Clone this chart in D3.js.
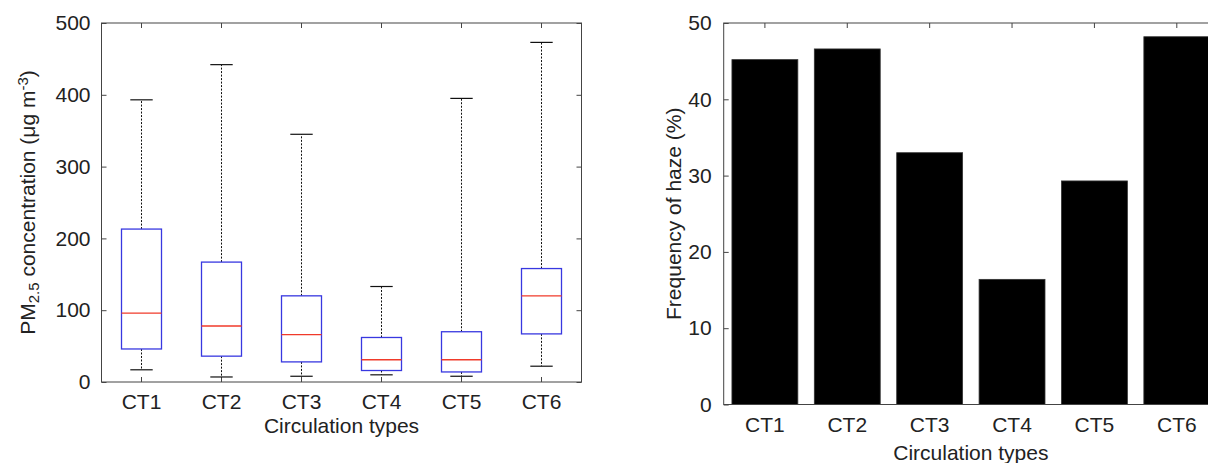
<!DOCTYPE html>
<html>
<head>
<meta charset="utf-8">
<script src="https://cdn.jsdelivr.net/npm/d3@7"></script>
<style>
  body { margin: 0; background: #fff; }
  svg text { font-family: "Liberation Sans", Arial, sans-serif; fill: #222; }
  .axis path, .axis line { stroke: #444; }
</style>
</head>
<body>
<svg id="chart" width="1208" height="463"></svg>
<script>
const categories = ["CT1", "CT2", "CT3", "CT4", "CT5", "CT6"];

// box plot stats, PM2.5 (ug m-3)
const whiskerLow  = [17, 7, 8, 10, 8, 22];
const q1          = [46, 36, 28, 16, 14, 67];
const median      = [96, 78, 66, 31, 31, 120];
const q3          = [213, 167, 120, 62, 70, 158];
const whiskerHigh = [393, 442, 345, 133, 395, 473];

// haze frequency (%)
const hazeFreq = [45.2, 46.6, 33.0, 16.4, 29.3, 48.2];

const pmTicks = [0, 100, 200, 300, 400, 500];
const hazeTicks = [0, 10, 20, 30, 40, 50];

const svg = d3.select('#chart');
const fontSize = 21;

// ---------- left: box plot ----------
const left = {x0: 101.5, x1: 581.5, y0: 23, y1: 382};
const xBox = d3.scaleBand().domain(categories).range([left.x0, left.x1]).padding(0);
const yBox = d3.scaleLinear().domain([0, 500]).range([left.y1, left.y0]);
const boxData = categories.map((c, i) => ({
  c, lo: whiskerLow[i], q1: q1[i], med: median[i], q3: q3[i], hi: whiskerHigh[i]
}));

const gL = svg.append('g');

// frame
gL.append('rect')
  .attr('x', left.x0).attr('y', left.y0)
  .attr('width', left.x1 - left.x0).attr('height', left.y1 - left.y0)
  .attr('fill', 'none').attr('stroke', '#444');

const axL = gL.append('g').attr('class', 'axis')
  .attr('transform', `translate(${left.x0},0)`)
  .call(d3.axisLeft(yBox).tickValues(pmTicks).tickSizeInner(-5).tickSizeOuter(0).tickPadding(11));
const axR = gL.append('g').attr('class', 'axis')
  .attr('transform', `translate(${left.x1},0)`)
  .call(d3.axisRight(yBox).tickValues(pmTicks).tickSizeInner(-5).tickSizeOuter(0).tickFormat(''));
const axB = gL.append('g').attr('class', 'axis')
  .attr('transform', `translate(0,${left.y1})`)
  .call(d3.axisBottom(xBox).tickSizeInner(-5).tickSizeOuter(0).tickPadding(12));
const axT = gL.append('g').attr('class', 'axis')
  .attr('transform', `translate(0,${left.y0})`)
  .call(d3.axisTop(xBox).tickSizeInner(-5).tickSizeOuter(0).tickFormat(''));
[axL, axR, axB, axT].forEach(a => a.select('.domain').remove());
gL.selectAll('.axis text').style('font-size', fontSize + 'px').style('font-family', '"Liberation Sans", Arial, sans-serif').attr('fill', '#222');

const bw = xBox.bandwidth();
const cx = d => xBox(d.c) + bw / 2;
const boxes = gL.selectAll('g.box').data(boxData).join('g').attr('class', 'box');

// whiskers
boxes.append('line')
  .attr('x1', cx).attr('x2', cx)
  .attr('y1', d => yBox(d.q3)).attr('y2', d => yBox(d.hi))
  .attr('stroke', '#111').attr('stroke-width', 1).attr('stroke-dasharray', '2,1.5');
boxes.append('line')
  .attr('x1', cx).attr('x2', cx)
  .attr('y1', d => yBox(d.q1)).attr('y2', d => yBox(d.lo))
  .attr('stroke', '#111').attr('stroke-width', 1).attr('stroke-dasharray', '2,1.5');
// caps
['hi', 'lo'].forEach(k => {
  boxes.append('line')
    .attr('x1', d => cx(d) - bw * 0.14).attr('x2', d => cx(d) + bw * 0.14)
    .attr('y1', d => yBox(d[k])).attr('y2', d => yBox(d[k]))
    .attr('stroke', '#111').attr('stroke-width', 1.2);
});
// box
boxes.append('rect')
  .attr('x', d => cx(d) - bw * 0.25).attr('width', bw * 0.5)
  .attr('y', d => yBox(d.q3)).attr('height', d => yBox(d.q1) - yBox(d.q3))
  .attr('fill', '#fff').attr('stroke', '#3838e0').attr('stroke-width', 1.3);
// median
boxes.append('line')
  .attr('x1', d => cx(d) - bw * 0.25).attr('x2', d => cx(d) + bw * 0.25)
  .attr('y1', d => yBox(d.med)).attr('y2', d => yBox(d.med))
  .attr('stroke', '#f03a2a').attr('stroke-width', 1.3);

// labels
gL.append('text')
  .attr('x', (left.x0 + left.x1) / 2).attr('y', 433)
  .attr('text-anchor', 'middle').style('font-size', fontSize + 'px')
  .text('Circulation types');

const yLab = gL.append('text')
  .attr('transform', `translate(35,${(left.y0 + left.y1) / 2}) rotate(-90)`)
  .attr('text-anchor', 'middle').style('font-size', fontSize + 'px');
yLab.append('tspan').text('PM');
yLab.append('tspan').attr('baseline-shift', '-28%').style('font-size', '15px').text('2.5');
yLab.append('tspan').text(' concentration (\u03bcg m');
yLab.append('tspan').attr('baseline-shift', '45%').style('font-size', '15px').text('-3');
yLab.append('tspan').text(')');

// ---------- right: bar chart ----------
const right = {x0: 723.7, x1: 1218, y0: 23, y1: 404.5};
const xBar = d3.scaleBand().domain(categories).range([right.x0, right.x1]).padding(0);
const yBar = d3.scaleLinear().domain([0, 50]).range([right.y1, right.y0]);

const gR = svg.append('g');

gR.selectAll('rect.bar').data(categories.map((c, i) => ({c, v: hazeFreq[i]})))
  .join('rect').attr('class', 'bar')
  .attr('x', d => xBar(d.c) + xBar.bandwidth() * 0.1)
  .attr('width', xBar.bandwidth() * 0.8)
  .attr('y', d => yBar(d.v))
  .attr('height', d => yBar(0) - yBar(d.v))
  .attr('fill', '#000').attr('stroke', '#333').attr('stroke-width', 0.8);

gR.append('rect')
  .attr('x', right.x0).attr('y', right.y0)
  .attr('width', right.x1 - right.x0).attr('height', right.y1 - right.y0)
  .attr('fill', 'none').attr('stroke', '#444');

const bL = gR.append('g').attr('class', 'axis')
  .attr('transform', `translate(${right.x0},0)`)
  .call(d3.axisLeft(yBar).tickValues(hazeTicks).tickSizeInner(-5).tickSizeOuter(0).tickPadding(12));
const bB = gR.append('g').attr('class', 'axis')
  .attr('transform', `translate(0,${right.y1})`)
  .call(d3.axisBottom(xBar).tickSizeInner(0).tickSizeOuter(0).tickPadding(13));
const bT = gR.append('g').attr('class', 'axis')
  .attr('transform', `translate(0,${right.y0})`)
  .call(d3.axisTop(xBar).tickSizeInner(-5).tickSizeOuter(0).tickFormat(''));
[bL, bB, bT].forEach(a => a.select('.domain').remove());
gR.selectAll('.axis text').style('font-size', fontSize + 'px').style('font-family', '"Liberation Sans", Arial, sans-serif').attr('fill', '#222');

gR.append('text')
  .attr('x', (right.x0 + right.x1) / 2).attr('y', 460)
  .attr('text-anchor', 'middle').style('font-size', fontSize + 'px')
  .text('Circulation types');

gR.append('text')
  .attr('transform', `translate(681,${(right.y0 + right.y1) / 2}) rotate(-90)`)
  .attr('text-anchor', 'middle').style('font-size', fontSize + 'px')
  .text('Frequency of haze (%)');
</script>
</body>
</html>
